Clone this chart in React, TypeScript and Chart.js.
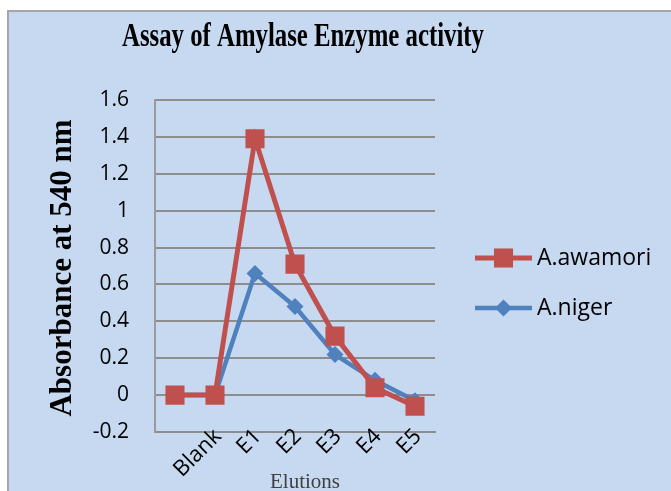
import React, { useEffect, useRef } from "react";
import { Chart, registerables } from "chart.js";

Chart.register(...registerables);

const categories = ["", "Blank", "E1", "E2", "E3", "E4", "E5"];
const awamori = [0, 0, 1.39, 0.71, 0.32, 0.04, -0.06];
const niger = [0, 0, 0.66, 0.48, 0.22, 0.08, -0.03];
const seriesNames = ["A.awamori", "A.niger"];
const chartTitle = "Assay of Amylase Enzyme activity";
const yTitle = "Absorbance at 540 nm";
const xTitle = "Elutions";

const RED = "#c0504d";
const BLUE = "#4f81bd";
const BG = "#c6d9f1";
const W = 671;
const H = 491;

const decorPlugin = {
  id: "decor",
  beforeDraw(chart: any) {
    const ctx = chart.ctx;
    ctx.save();
    ctx.fillStyle = "#ffffff";
    ctx.fillRect(0, 0, W, H);
    ctx.fillStyle = BG;
    ctx.fillRect(8, 11, W - 8, H - 11);
    ctx.strokeStyle = "#a6a6a6";
    ctx.lineWidth = 2;
    ctx.beginPath();
    ctx.moveTo(8, H);
    ctx.lineTo(8, 11);
    ctx.lineTo(W, 11);
    ctx.stroke();
    ctx.restore();
  },
  afterDraw(chart: any) {
    const ctx = chart.ctx;
    ctx.save();
    // main title (horizontally condensed to match)
    ctx.font = "bold 33px 'Liberation Serif'";
    ctx.fillStyle = "#000";
    ctx.textBaseline = "alphabetic";
    ctx.textAlign = "center";
    const tw = ctx.measureText(chartTitle).width;
    const targetW = 362;
    ctx.save();
    ctx.translate(303, 46);
    ctx.scale(targetW / tw, 1);
    ctx.fillText(chartTitle, 0, 0);
    ctx.restore();

    // y title
    ctx.save();
    ctx.translate(63, 268);
    ctx.rotate(-Math.PI / 2);
    ctx.font = "bold 31px 'Liberation Serif'";
    ctx.textBaseline = "middle";
    ctx.textAlign = "center";
    ctx.fillText(yTitle, 0, 0);
    ctx.restore();

    // x category labels (rotated), positioned by the category scale
    const xs = chart.scales.x;
    const axisY = chart.chartArea.bottom;
    ctx.font = "22px 'Open Sans'";
    ctx.fillStyle = "#000";
    categories.forEach((lab, i) => {
      if (!lab) return;
      const px = xs.getPixelForTick(i);
      ctx.save();
      ctx.translate(px + 3, axisY + 1);
      ctx.rotate(-Math.PI / 4);
      ctx.textAlign = "right";
      ctx.textBaseline = "middle";
      ctx.fillText(lab, 0, 0);
      ctx.restore();
    });

    // x title
    ctx.font = "21px 'Liberation Serif'";
    ctx.fillStyle = "#404040";
    ctx.textAlign = "center";
    ctx.textBaseline = "alphabetic";
    ctx.fillText(xTitle, 305, 488);

    // legend
    const items = chart.data.datasets;
    const ys = [258, 308];
    items.forEach((ds: any, i: number) => {
      const y = ys[i];
      ctx.strokeStyle = ds.borderColor;
      ctx.lineWidth = ds.borderWidth;
      ctx.beginPath();
      ctx.moveTo(475, y);
      ctx.lineTo(532, y);
      ctx.stroke();
      ctx.fillStyle = ds.pointBackgroundColor;
      const cx = 503.5;
      if (ds.pointStyle === "rect") {
        const s = ds.pointRadius * Math.SQRT1_2;
        ctx.fillRect(cx - s, y - s, 2 * s, 2 * s);
      } else {
        const r = ds.pointRadius;
        ctx.beginPath();
        ctx.moveTo(cx, y - r);
        ctx.lineTo(cx + r, y);
        ctx.lineTo(cx, y + r);
        ctx.lineTo(cx - r, y);
        ctx.closePath();
        ctx.fill();
      }
      ctx.fillStyle = "#000";
      ctx.font = "23px 'Open Sans'";
      ctx.textAlign = "left";
      ctx.textBaseline = "middle";
      ctx.fillText(ds.label, 537, y);
    });
    ctx.restore();
  },
};

export default function App() {
  const ref = useRef<HTMLCanvasElement>(null);
  useEffect(() => {
    if (!ref.current) return;
    const chart = new Chart(ref.current, {
      type: "line",
      data: {
        labels: categories,
        datasets: [
          {
            label: seriesNames[0],
            data: awamori,
            borderColor: RED,
            backgroundColor: RED,
            pointBackgroundColor: RED,
            pointBorderColor: RED,
            pointStyle: "rect",
            pointRadius: 13.5,
            pointBorderWidth: 0,
            borderWidth: 5,
            tension: 0,
          },
          {
            label: seriesNames[1],
            data: niger,
            borderColor: BLUE,
            backgroundColor: BLUE,
            pointBackgroundColor: BLUE,
            pointBorderColor: BLUE,
            pointStyle: "rectRot",
            pointRadius: 8.5,
            pointBorderWidth: 0,
            borderWidth: 4.5,
            tension: 0,
          },
        ] as any,
      },
      options: {
        responsive: false,
        animation: false,
        layout: { padding: { top: 100, right: W - 435, left: 0, bottom: 0 } },
        plugins: {
          legend: { display: false },
          title: { display: false },
          tooltip: { enabled: false },
        },
        scales: {
          x: {
            offset: true,
            grid: { display: false, drawTicks: false },
            border: { display: true, color: "#8d8d8d", width: 2 },
            ticks: { display: false, autoSkip: false },
            afterFit(scale: any) {
              scale.height = H - 432;
            },
          },
          y: {
            min: -0.2,
            max: 1.6,
            ticks: {
              stepSize: 0.2,
              padding: 26,
              color: "#000",
              font: { family: "'Open Sans'", size: 21 },
              callback: (v: any) => String(Math.round(Number(v) * 10) / 10),
            },
            grid: { color: "#8d8d8d", lineWidth: 2, drawTicks: false },
            border: { display: true, color: "#9a9a9a", width: 2 },
            afterFit(scale: any) {
              scale.width = 155;
            },
          },
        },
      },
      plugins: [decorPlugin],
    } as any);
    return () => chart.destroy();
  }, []);
  return (
    <div style={{ position: "fixed", left: 0, top: 0, width: W, height: H }}>
      <canvas ref={ref} width={W} height={H} style={{ display: "block", width: W, height: H }} />
    </div>
  );
}
